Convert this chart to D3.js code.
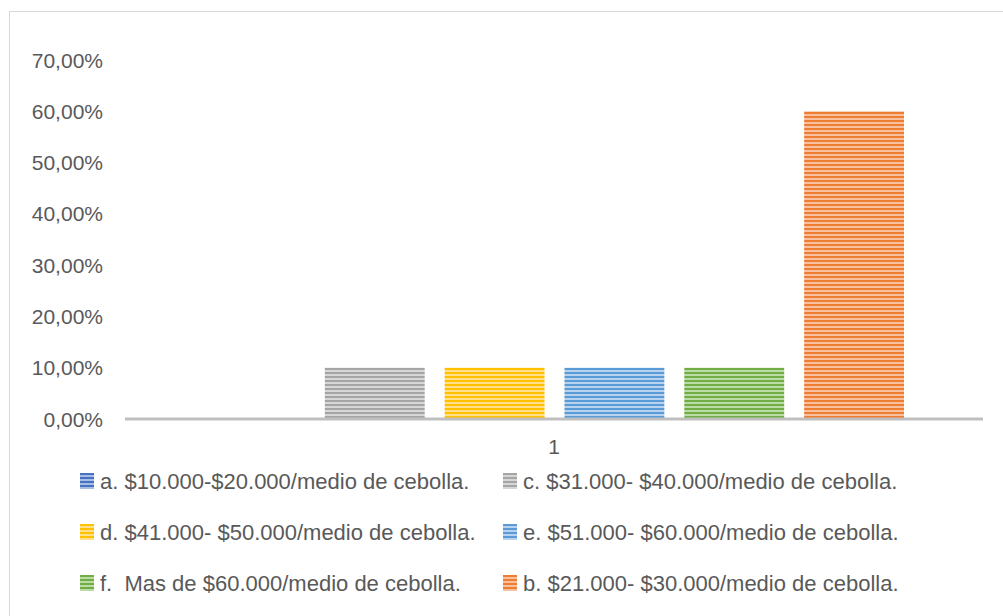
<!DOCTYPE html>
<html lang="es">
<head>
<meta charset="utf-8">
<title>Precio medio de cebolla</title>
<script src="https://d3js.org/d3.v7.min.js"></script>
<style>
  body { margin: 0; background: #fff; font-family: "Liberation Sans", Arial, sans-serif; }
  text { fill: #595959; white-space: pre; }
</style>
</head>
<body>
<script>
// data
var categories = ["1"];
var seriesNames = [
  "a. $10.000-$20.000/medio de cebolla.",
  "c. $31.000- $40.000/medio de cebolla.",
  "d. $41.000- $50.000/medio de cebolla.",
  "e. $51.000- $60.000/medio de cebolla.",
  "f.  Mas de $60.000/medio de cebolla.",
  "b. $21.000- $30.000/medio de cebolla."
];
var seriesValues = [0, 0.10, 0.10, 0.10, 0.10, 0.60];
var seriesColors = ["#4472c4", "#a5a5a5", "#ffc000", "#5b9bd5", "#70ad47", "#ed7d31"];
var seriesLight = ["#a9bde3", "#d6d6d6", "#ffe08a", "#b6d2ee", "#bcdca6", "#f7c1a0"];
var yTicks = [0, 0.1, 0.2, 0.3, 0.4, 0.5, 0.6, 0.7];

var W = 1003, H = 616;
var svg = d3.select("body").append("svg")
  .attr("width", W).attr("height", H);

// chart border
svg.append("rect")
  .attr("x", 9.5).attr("y", 11.5)
  .attr("width", 1000).attr("height", 700)
  .attr("fill", "none").attr("stroke", "#d9d9d9");

// striped fills
var defs = svg.append("defs");
seriesNames.forEach(function(s, i) {
  var p = defs.append("pattern")
    .attr("id", "stripe" + i)
    .attr("patternUnits", "userSpaceOnUse")
    .attr("width", 8).attr("height", 4);
  p.append("rect").attr("width", 8).attr("height", 4).attr("fill", seriesLight[i]);
  p.append("rect").attr("width", 8).attr("height", 2).attr("fill", seriesColors[i]);
});

var plot = {left: 125, right: 983, top: 60, bottom: 419};

var y = d3.scaleLinear().domain([0, 0.7]).range([plot.bottom, plot.top]);
var x0 = d3.scaleBand().domain(categories).range([plot.left, plot.right]);
var x1 = d3.scaleBand().domain(seriesNames)
  .range([plot.left + 80, plot.right - 79])
  .paddingInner(1 / 6).paddingOuter(0);

// y tick labels
svg.append("g").selectAll("text")
  .data(yTicks).enter().append("text")
  .attr("x", 103)
  .attr("y", function(d) { return y(d); })
  .attr("dy", "0.36em")
  .attr("text-anchor", "end")
  .style("font-size", "21px")
  .text(function(d) { return (d * 100).toFixed(2).replace(".", ",") + "%"; });

// bars
svg.append("g").selectAll("rect")
  .data(seriesValues).enter().append("rect")
  .attr("x", function(d, i) { return x1(seriesNames[i]); })
  .attr("width", x1.bandwidth())
  .attr("y", function(d) { return y(d); })
  .attr("height", function(d) { return y(0) - y(d); })
  .attr("fill", function(d, i) { return "url(#stripe" + i + ")"; });

// x axis line
svg.append("line")
  .attr("x1", plot.left).attr("x2", plot.right)
  .attr("y1", y(0)).attr("y2", y(0))
  .attr("stroke", "#bfbfbf").attr("stroke-width", 3);

// category label
svg.append("g").selectAll("text")
  .data(categories).enter().append("text")
  .attr("x", function(d) { return x0(d) + x0.bandwidth() / 2; })
  .attr("y", 454)
  .attr("text-anchor", "middle")
  .style("font-size", "21px")
  .text(function(d) { return d; });

// legend
var colX = [80, 503];
var rowY = [481, 532, 583];
var leg = svg.append("g").selectAll("g")
  .data(seriesNames).enter().append("g")
  .attr("transform", function(d, i) {
    return "translate(" + colX[i % 2] + "," + rowY[Math.floor(i / 2)] + ")";
  });
leg.append("rect")
  .attr("x", 0).attr("y", -8)
  .attr("width", 14).attr("height", 16)
  .attr("fill", function(d, i) { return "url(#stripe" + i + ")"; });
leg.append("text")
  .attr("x", 20).attr("y", 0)
  .attr("dy", "0.36em")
  .style("font-size", "22px")
  .text(function(d) { return d; });
</script>
</body>
</html>
